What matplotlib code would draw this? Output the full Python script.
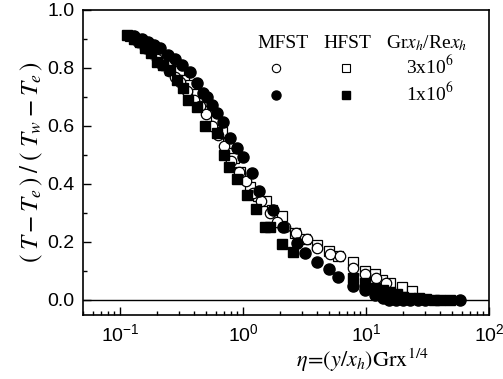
import numpy as np
import matplotlib.pyplot as plt
from matplotlib.ticker import MultipleLocator, LogLocator, NullFormatter

plt.rcParams['mathtext.fontset'] = 'stix'

# MFST, Grx/Rex = 3e6 (open circles)
mf3_x = [0.12, 0.14, 0.16, 0.18, 0.20, 0.22, 0.25, 0.28, 0.31, 0.35, 0.40, 0.45, 0.50,
         0.56, 0.63, 0.70, 0.80, 0.92, 1.05, 1.2, 1.4, 1.65, 1.9, 2.2, 2.7, 3.3, 4.0,
         5.1, 6.1, 7.8, 9.8, 12.0, 14.5]
mf3_y = [0.91, 0.89, 0.87, 0.85, 0.83, 0.81, 0.79, 0.77, 0.75, 0.72, 0.69, 0.67, 0.64,
         0.60, 0.57, 0.53, 0.48, 0.44, 0.41, 0.37, 0.34, 0.30, 0.27, 0.25, 0.23, 0.21, 0.18,
         0.16, 0.15, 0.11, 0.09, 0.075, 0.06]

# HFST, 3e6 (open squares)
hf3_x = [0.12, 0.135, 0.15, 0.17, 0.19, 0.21, 0.24, 0.27, 0.30, 0.33, 0.37, 0.42, 0.47,
         0.53, 0.60, 0.67, 0.75, 0.85, 0.95, 1.14, 1.32, 1.54, 1.72, 2.07, 2.64, 3.19,
         4.0, 5.0, 5.9, 7.8, 9.8, 11.8, 13.5, 15.6, 19.7, 23.7]
hf3_y = [0.91, 0.90, 0.89, 0.87, 0.86, 0.85, 0.83, 0.81, 0.79, 0.76, 0.74, 0.71, 0.68,
         0.65, 0.62, 0.58, 0.54, 0.49, 0.44, 0.39, 0.36, 0.34, 0.31, 0.29, 0.23, 0.21,
         0.19, 0.17, 0.15, 0.13, 0.10, 0.09, 0.07, 0.06, 0.045, 0.031]

# MFST, 1e6 (filled circles)
mf1_x = [0.13, 0.15, 0.17, 0.19, 0.21, 0.245, 0.28, 0.32, 0.37, 0.42, 0.47, 0.51, 0.56,
         0.61, 0.69, 0.78, 0.89, 1.0, 1.18, 1.35, 1.75, 2.11, 2.75, 3.19, 4.0, 5.0, 5.9,
         7.8, 9.8, 11.8, 13.7, 15.5, 17.5, 20, 23, 26.5, 30, 58]
mf1_y = [0.91, 0.90, 0.89, 0.88, 0.87, 0.845, 0.83, 0.81, 0.786, 0.748, 0.714, 0.70, 0.672,
         0.645, 0.614, 0.559, 0.524, 0.493, 0.438, 0.376, 0.31, 0.252, 0.197, 0.162, 0.131,
         0.107, 0.079, 0.048, 0.034, 0.017, 0.005, 0.0, 0.0, 0.0, 0.0, 0.0, 0.0, 0.0]

# HFST, 1e6 (filled squares)
hf1_x = [0.114, 0.13, 0.145, 0.16, 0.18, 0.2, 0.225, 0.255, 0.29, 0.325, 0.357, 0.42,
         0.49, 0.61, 0.70, 0.77, 0.89, 1.08, 1.27, 1.5, 1.66, 2.07, 2.55, 7.8, 9.8, 11.8,
         13.7, 15.6, 18, 20, 23, 27, 31, 36, 40, 48]
hf1_y = [0.914, 0.90, 0.89, 0.87, 0.85, 0.82, 0.81, 0.793, 0.76, 0.73, 0.69, 0.666,
         0.60, 0.576, 0.50, 0.459, 0.417, 0.362, 0.314, 0.252, 0.252, 0.193, 0.166, 0.076,
         0.059, 0.041, 0.034, 0.028, 0.02, 0.01, 0.006, 0.005, 0.003, 0.0, 0.0, 0.0]

fig = plt.figure(figsize=(5.03, 3.79), dpi=100)
ax = fig.add_axes([83/503, 1-315/379, 406/503, 305/379])

ax.plot(hf3_x, hf3_y, 's', ms=7, mfc='white', mec='black', mew=0.9)
ax.plot(mf3_x, mf3_y, 'o', ms=7.5, mfc='white', mec='black', mew=0.9)
ax.plot(hf1_x, hf1_y, 's', ms=7, color='black')
ax.plot(mf1_x, mf1_y, 'o', ms=8, color='black')

ax.axhline(0, color='black', lw=1)
ax.set_xscale('log')
ax.set_xlim(0.05, 100)
ax.set_ylim(-0.052, 1.0)
ax.yaxis.set_major_locator(MultipleLocator(0.2))
ax.yaxis.set_minor_locator(MultipleLocator(0.1))
ax.xaxis.set_minor_locator(LogLocator(base=10, subs=np.arange(2, 10)))
ax.xaxis.set_minor_formatter(NullFormatter())
ax.set_yticks([0.0, 0.2, 0.4, 0.6, 0.8, 1.0])
ax.set_yticklabels(['0.0', '0.2', '0.4', '0.6', '0.8', '1.0'])
ax.tick_params(which='both', direction='in', top=False, right=False,
               labelsize=14, width=1)
ax.tick_params(which='major', length=6, pad=6)
ax.tick_params(which='minor', length=3)
for lab in ax.get_xticklabels() + ax.get_yticklabels():
    lab.set_family('Liberation Sans')
for s in ax.spines.values():
    s.set_linewidth(1.2)

ax.set_ylabel(r'$(\;T - T_e\,)\;/\;(\;T_w - T_e\,)$', fontsize=18, labelpad=2)
fig.text(362/503, 1-360/379, r'$\eta\!=\!\left(y/x_h\right)\mathrm{Grx}^{1/4}$',
         fontsize=16, ha='center', va='center')

# legend block
serif = 'Liberation Serif'
fig.text(283/503, 1-43/379, 'MFST', fontsize=14, family=serif, ha='center', va='center')
fig.text(347/503, 1-43/379, 'HFST', fontsize=14, family=serif, ha='center', va='center')
fig.text(427/503, 1-43/379, r'Gr$x_h$/Re$x_h$', fontsize=14, family=serif,
         ha='center', va='center')
fig.text(430/503, 1-66/379, r'3x10$^6$', fontsize=14, family=serif, ha='center', va='center')
fig.text(430/503, 1-93/379, r'1x10$^6$', fontsize=14, family=serif, ha='center', va='center')
fig.lines.append(plt.Line2D([276/503], [1-68/379], marker='o', ms=6, mfc='white',
                            mec='black', mew=0.8, transform=fig.transFigure))
fig.lines.append(plt.Line2D([346/503], [1-68/379], marker='s', ms=5.5, mfc='white',
                            mec='black', mew=0.8, transform=fig.transFigure))
fig.lines.append(plt.Line2D([276/503], [1-95/379], marker='o', ms=6.5, color='black',
                            transform=fig.transFigure))
fig.lines.append(plt.Line2D([346/503], [1-95/379], marker='s', ms=6, color='black',
                            transform=fig.transFigure))

fig.savefig('out.png', dpi=100)
